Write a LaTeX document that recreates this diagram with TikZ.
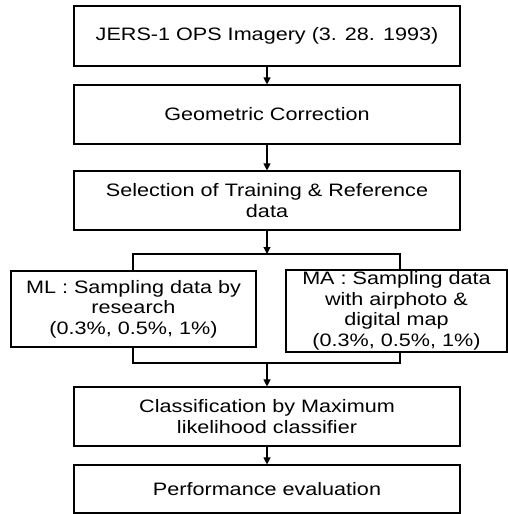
\documentclass[tikz,border=0pt]{standalone}
\usepackage{fontspec}
\setmainfont{Liberation Sans}[FakeStretch=1.2]
\usetikzlibrary{arrows.meta}
\begin{document}
\begin{tikzpicture}[x=1pt,y=-1pt,
  box/.style={draw,line width=1.1pt,inner sep=0pt,align=center,font=\fontsize{18}{20.5}\selectfont},
  wide/.style={box,minimum width=386pt,minimum height=59pt},
  line/.style={line width=1.1pt},
  arr/.style={line,-{Triangle[length=7pt,width=7pt]}}]
\useasboundingbox (0,0) rectangle (508,514);
\node[wide,minimum height=60pt] (b1) at (267,36) {JERS-1 OPS Imagery (3. 28. 1993)};
\node[wide] (b2) at (267,114.5) {Geometric Correction};
\node[wide] (b3) at (267,200.5) {Selection of Training \& Reference\\data};
\node[box,minimum width=245pt,minimum height=76pt] (ml) at (133.5,309) {ML : Sampling data by\\research\\(0.3\%, 0.5\%, 1\%)};
\node[box,minimum width=221pt,minimum height=82pt] (ma) at (396.5,311) {MA : Sampling data\\with airphoto \&\\digital map\\(0.3\%, 0.5\%, 1\%)};
\node[wide] (b4) at (267,416.5) {Classification by Maximum\\likelihood classifier};
\node[wide,minimum height=48pt] (b5) at (267,489) {Performance evaluation};
\coordinate (s) at (267,254);
\coordinate (sl) at (133,254);
\coordinate (sr) at (400,254);
\coordinate (j) at (267,363);
\coordinate (jl) at (133,363);
\coordinate (jr) at (400,363);
\draw[arr] (b1) -- (b2);
\draw[arr] (b2) -- (b3);
\draw[arr] (b3) -- (s);
\draw[line] (ml.north -| sl) -- (sl) -- (sr) -- (ma.north -| sr);
\draw[line] (ml.south -| jl) -- (jl) -- (jr) -- (ma.south -| jr);
\draw[arr] (j) -- (b4);
\draw[arr] (b4) -- (b5);
\end{tikzpicture}
\end{document}
